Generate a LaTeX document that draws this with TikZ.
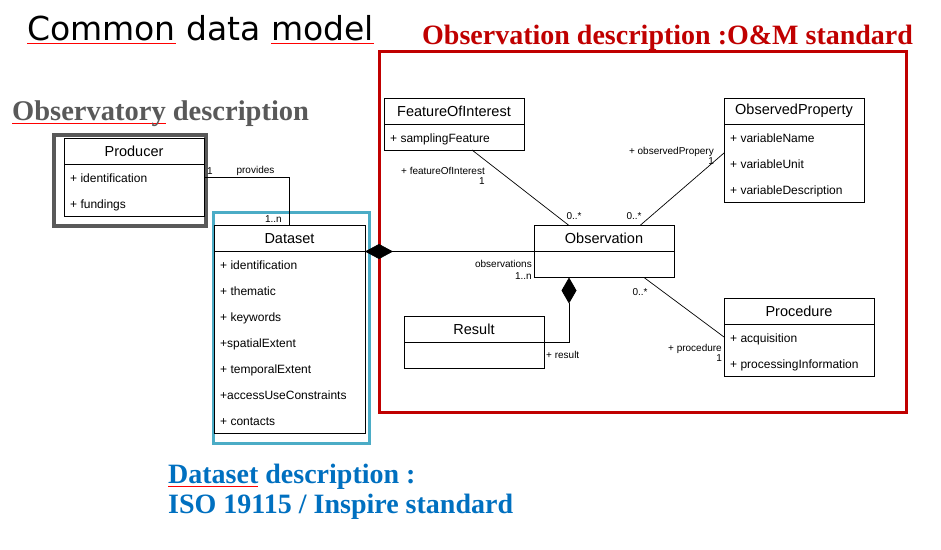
\documentclass[tikz,border=0pt]{standalone}
\usepackage{fontspec}
\setmainfont{Liberation Sans}
\newfontfamily\titlefont{DejaVu Sans}
\newfontfamily\headfont{Liberation Serif}
\usetikzlibrary{positioning, arrows.meta}

\definecolor{obsvgray}{HTML}{595959}
\definecolor{omred}{HTML}{C00000}
\definecolor{dscyan}{HTML}{4BACC6}
\definecolor{dsblue}{HTML}{0070C0}
\definecolor{spell}{HTML}{FF0000}

% red spell-check line under a word
\newcommand{\spellmark}[1]{\setbox0\hbox{#1}\rlap{\color{spell}\rule[-4pt]{\wd0}{0.8pt}}\box0\relax}

\begin{document}
\begin{tikzpicture}[x=1pt, y=-1pt,
	classhead/.style={draw, line width=0.9pt, outer sep=0pt, minimum height=26pt, inner sep=0pt, font=\fontsize{14.5}{16}\selectfont},
	classbody/.style={draw, line width=0.9pt, outer sep=0pt, inner sep=0pt},
	attr/.style={anchor=base west, inner sep=0pt, font=\fontsize{12}{14}\selectfont},
	lbl/.style={inner sep=0pt, align=right, font=\fontsize{10}{10.5}\selectfont},
	conn/.style={line width=0.7pt},
	heading/.style={anchor=base west, inner sep=0pt, font=\headfont\bfseries\fontsize{28}{30}\selectfont}]
	\fill[white] (0,0) rectangle (941,549);
	\useasboundingbox (0,0) rectangle (941,549);
	
	% Titles
	\node[anchor=base west, inner sep=0pt, font=\titlefont\fontsize{33}{36}\selectfont] (title) at (27,40) {\spellmark{Common} data \spellmark{model}};
	\node[heading, text=obsvgray, font=\headfont\bfseries\fontsize{28.5}{30}\selectfont] (obsvtitle) at (12,120) {\spellmark{Observatory} description};
	\node[heading, text=omred] (omtitle) at (422,44) {Observation description :O\&M standard};
	\node[heading, text=dsblue] (dstitle) at (168,483) {\spellmark{Dataset} description :};
	\node[heading, text=dsblue] (dstitle2) at (168,513) {ISO 19115 / Inspire standard};
	
	% Frames
	\draw[obsvgray, line width=4pt] (54,135) rectangle (206,226);
	\draw[dscyan, line width=3pt] (213.5,212.5) rectangle (369.5,443);
	\draw[omred, line width=3pt] (379.5,51.5) rectangle (906.5,412.5);
	
	% Producer
	\node[classhead, minimum width=140pt] (producer) at (134,151) {Producer};
	\node[classbody, minimum width=140pt, minimum height=52pt, below=0pt of producer] (producerbody) {};
	\foreach \t [count=\i] in {+ identification, + fundings}
		\node[attr] (prodattr\i) at ([xshift=6pt, yshift={(-18-26*(\i-1))*1pt}]producerbody.north west) {\t};
	
	% Dataset
	\node[classhead, minimum width=151pt] (dataset) at (289.5,238.5) {Dataset};
	\node[classbody, minimum width=151pt, minimum height=182pt, below=0pt of dataset] (datasetbody) {};
	\foreach \t [count=\i] in {+ identification, + thematic, + keywords, +spatialExtent, + temporalExtent, +accessUseConstraints, + contacts}
		\node[attr] (dsattr\i) at ([xshift=6pt, yshift={(-18-26*(\i-1))*1pt}]datasetbody.north west) {\t};
	
	% FeatureOfInterest
	\node[classhead, minimum width=140pt] (foi) at (454,111) {FeatureOfInterest};
	\node[classbody, minimum width=140pt, minimum height=26pt, below=0pt of foi] (foibody) {};
	\node[attr] (foiattr1) at ([xshift=6pt, yshift=-18pt]foibody.north west) {+ samplingFeature};
	
	% ObservedProperty
	\node[classhead, minimum width=140pt] (obsprop) at (794,111) {ObservedProperty};
	\node[classbody, minimum width=140pt, minimum height=78pt, below=0pt of obsprop] (obspropbody) {};
	\foreach \t [count=\i] in {+ variableName, + variableUnit, + variableDescription}
		\node[attr] (opattr\i) at ([xshift=6pt, yshift={(-18-26*(\i-1))*1pt}]obspropbody.north west) {\t};
	
	% Observation
	\node[classhead, minimum width=140pt] (observation) at (604,238.5) {Observation};
	\node[classbody, minimum width=140pt, minimum height=26pt, below=0pt of observation] (observationbody) {};
	
	% Result
	\node[classhead, minimum width=140pt] (result) at (474,329) {Result};
	\node[classbody, minimum width=140pt, minimum height=26pt, below=0pt of result] (resultbody) {};
	
	% Procedure
	\node[classhead, minimum width=150pt] (procedure) at (799,311) {Procedure};
	\node[classbody, minimum width=150pt, minimum height=52pt, below=0pt of procedure] (procedurebody) {};
	\foreach \t [count=\i] in {+ acquisition, + processingInformation}
		\node[attr] (procattr\i) at ([xshift=6pt, yshift={(-18-26*(\i-1))*1pt}]procedurebody.north west) {\t};
	
	% Connectors
	\draw[conn] ([yshift=-13pt]producerbody.north east) -| (dataset.north);
	\draw[conn, {Diamond[length=28pt, width=15pt]}-] (datasetbody.north east) -- (observationbody.north west);
	\draw[conn] ([xshift=18pt]foibody.south) -- ([xshift=-35pt]observation.north);
	\draw[conn] ([yshift=-29pt]obspropbody.north west) -- ([xshift=36pt]observation.north);
	\draw[conn] ([xshift=40pt]observationbody.south) -- ([yshift=-13pt]procedurebody.north west);
	\draw[conn, {Diamond[length=26pt, width=15pt]}-] ([xshift=-35pt]observationbody.south) |- (resultbody.north east);
	
	% Labels
	\node[lbl, anchor=west] (provone) at (207,171) {1};
	\node[lbl] (provides) at (255.5,171) {provides};
	\node[lbl, anchor=east] (provmany) at (282,219) {1..n};
	\node[lbl, anchor=east] (foilbl) at (485,176) {+ featureOfInterest\\1};
	\node[lbl] (foimult) at (574,216) {0..*};
	\node[lbl, anchor=east] (oplbl) at (714,156) {+ observedPropery\\1};
	\node[lbl] (opmult) at (634,216) {0..*};
	\node[lbl, anchor=east, font=\fontsize{10}{12}\selectfont] (obslbl) at (532,270) {observations\\1..n};
	\node[lbl] (procmult) at (640,292) {0..*};
	\node[lbl, anchor=east] (proclbl) at (722,353) {+ procedure\\1};
	\node[lbl, anchor=west] (reslbl) at (546,355) {+ result};
\end{tikzpicture}
\end{document}
